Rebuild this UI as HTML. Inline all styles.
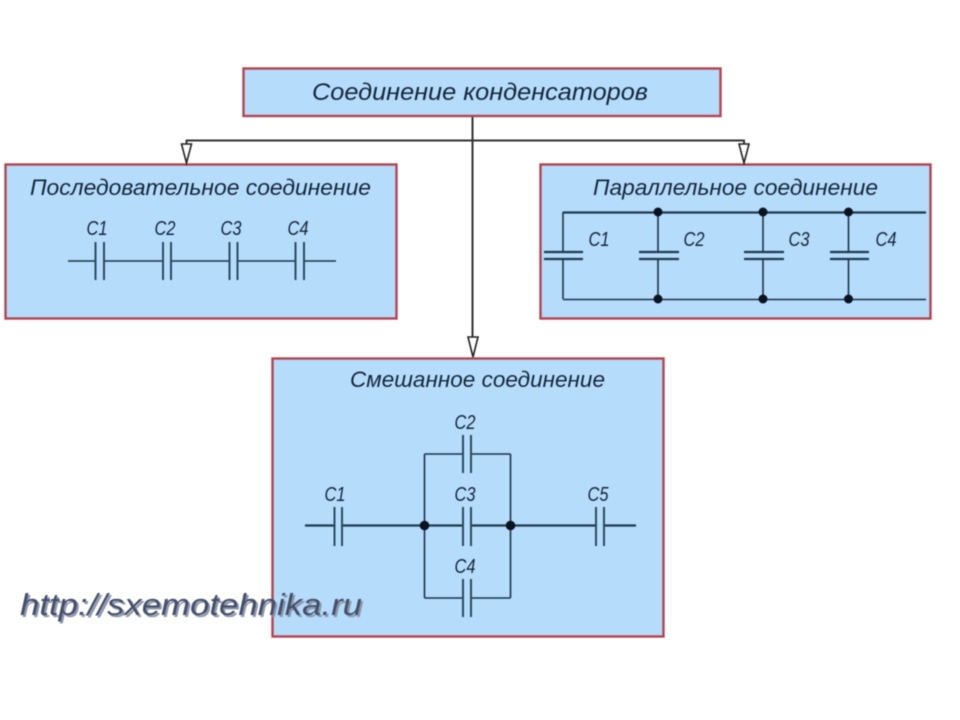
<!DOCTYPE html>
<html lang="ru">
<head>
<meta charset="utf-8">
<title>Соединение конденсаторов</title>
<style>
html,body{margin:0;padding:0;background:#fff;width:960px;height:720px;overflow:hidden}
svg{display:block;filter:blur(0.5px)}
text{font-family:"Liberation Sans",sans-serif;font-style:italic;fill:#15263a}
.box{fill:#b5dcfb;stroke:#b4434f;stroke-width:2.4}
.conn{stroke:#333;stroke-width:2;fill:none}
.w{stroke:#1b3349;stroke-width:1.6;fill:none}
.p{stroke:#2b4a60;stroke-width:2;fill:none}
.r{stroke:#1f3a4e;stroke-width:2.2;fill:none}
.arrow{fill:#fff;stroke:#222;stroke-width:1.6}
.lab{font-size:20px;text-anchor:middle}
.title{font-size:22.500px}
circle{fill:#0a1420}
</style>
</head>
<body>
<svg width="960" height="720" viewBox="0 0 960 720" xmlns="http://www.w3.org/2000/svg">
<rect width="960" height="720" fill="#fff"/>

<!-- connectors -->
<path class="conn" d="M472.500 116V338"/>
<path class="conn" d="M186.500 144V140.500H744V144"/>

<!-- boxes -->
<rect class="box" x="243.500" y="68.500" width="477" height="47.500"/>
<rect class="box" x="5.500" y="164.500" width="391" height="154"/>
<rect class="box" x="540.500" y="164.500" width="390" height="154"/>
<rect class="box" x="272.500" y="358.500" width="391" height="278"/>

<!-- arrowheads -->
<path class="arrow" d="M181.500 144H191.500L186.500 163Z"/>
<path class="arrow" d="M739 144H749L744 163Z"/>
<path class="arrow" d="M468 337H478L473 357Z"/>

<!-- titles -->
<text class="title" style="font-size:24px" x="312" y="100" textLength="336" lengthAdjust="spacingAndGlyphs">Соединение конденсаторов</text>
<text class="title" x="30" y="195" textLength="341" lengthAdjust="spacingAndGlyphs">Последовательное соединение</text>
<text class="title" x="593" y="195" textLength="285" lengthAdjust="spacingAndGlyphs">Параллельное соединение</text>
<text class="title" x="350" y="387" textLength="255" lengthAdjust="spacingAndGlyphs">Смешанное соединение</text>

<!-- series -->
<path class="w" d="M68 261H95M104 261H163M171 261H229M237 261H295M304 261H336"/>
<path class="p" d="M95.500 242V280M104 242V280M163 242V280M171 242V280M229.500 242V280M237.500 242V280M295.500 242V280M304 242V280"/>
<text class="lab" x="97" y="235" textLength="21" lengthAdjust="spacingAndGlyphs">C1</text>
<text class="lab" x="165" y="235" textLength="21" lengthAdjust="spacingAndGlyphs">C2</text>
<text class="lab" x="231" y="235" textLength="21" lengthAdjust="spacingAndGlyphs">C3</text>
<text class="lab" x="298" y="235" textLength="21" lengthAdjust="spacingAndGlyphs">C4</text>

<!-- parallel -->
<path class="r" d="M563 212.500H926"/>
<path class="w" d="M563 299.500H926"/>
<path class="w" d="M563 212V252M563 259V299M658 212V252M658 259V299M763 212V252M763 259V299M848.500 212V252M848.500 259V299"/>
<path class="r" d="M544 252H583M544 259H583M639 252H679M639 259H679M744 252H784M744 259H784M830 252H869M830 259H869"/>
<circle cx="658" cy="212" r="4.500"/><circle cx="763" cy="212" r="4.500"/><circle cx="848.500" cy="212" r="4.500"/>
<circle cx="658" cy="299" r="4.500"/><circle cx="763" cy="299" r="4.500"/><circle cx="848.500" cy="299" r="4.500"/>
<text class="lab" x="599" y="246" textLength="21" lengthAdjust="spacingAndGlyphs">C1</text>
<text class="lab" x="694" y="246" textLength="21" lengthAdjust="spacingAndGlyphs">C2</text>
<text class="lab" x="799" y="246" textLength="21" lengthAdjust="spacingAndGlyphs">C3</text>
<text class="lab" x="886" y="246" textLength="21" lengthAdjust="spacingAndGlyphs">C4</text>

<!-- mixed -->
<path class="r" d="M305 525.500H334.500M342 525.500H463M471 525.500H596M604 525.500H636"/>
<path class="w" d="M424.500 454V598M510.500 454V598M424.500 454H463M471 454H510.500M424.500 598H463M471 598H510.500"/>
<path class="p" d="M334.500 507V546M342 507V546M463 507V546M471 507V546M596 507V546M604 507V546M463 435V473M471 435V473M463 579V617M471 579V617"/>
<circle cx="424.500" cy="525.500" r="4.800"/><circle cx="510.500" cy="525.500" r="4.800"/>
<text class="lab" x="335" y="501" textLength="21" lengthAdjust="spacingAndGlyphs">C1</text>
<text class="lab" x="465" y="429" textLength="21" lengthAdjust="spacingAndGlyphs">C2</text>
<text class="lab" x="465" y="501" textLength="21" lengthAdjust="spacingAndGlyphs">C3</text>
<text class="lab" x="465" y="573" textLength="21" lengthAdjust="spacingAndGlyphs">C4</text>
<text class="lab" x="598" y="501" textLength="21" lengthAdjust="spacingAndGlyphs">C5</text>

<!-- watermark -->
<text x="22" y="617" font-size="31" textLength="342" lengthAdjust="spacingAndGlyphs" style="font-family:'Liberation Sans',sans-serif;font-style:italic;fill:#8d97ad">http://sxemotehnika.ru</text>
<text x="20" y="615" font-size="31" textLength="342" lengthAdjust="spacingAndGlyphs" style="font-family:'Liberation Sans',sans-serif;font-style:italic;fill:#44506a">http://sxemotehnika.ru</text>
</svg>
</body>
</html>
